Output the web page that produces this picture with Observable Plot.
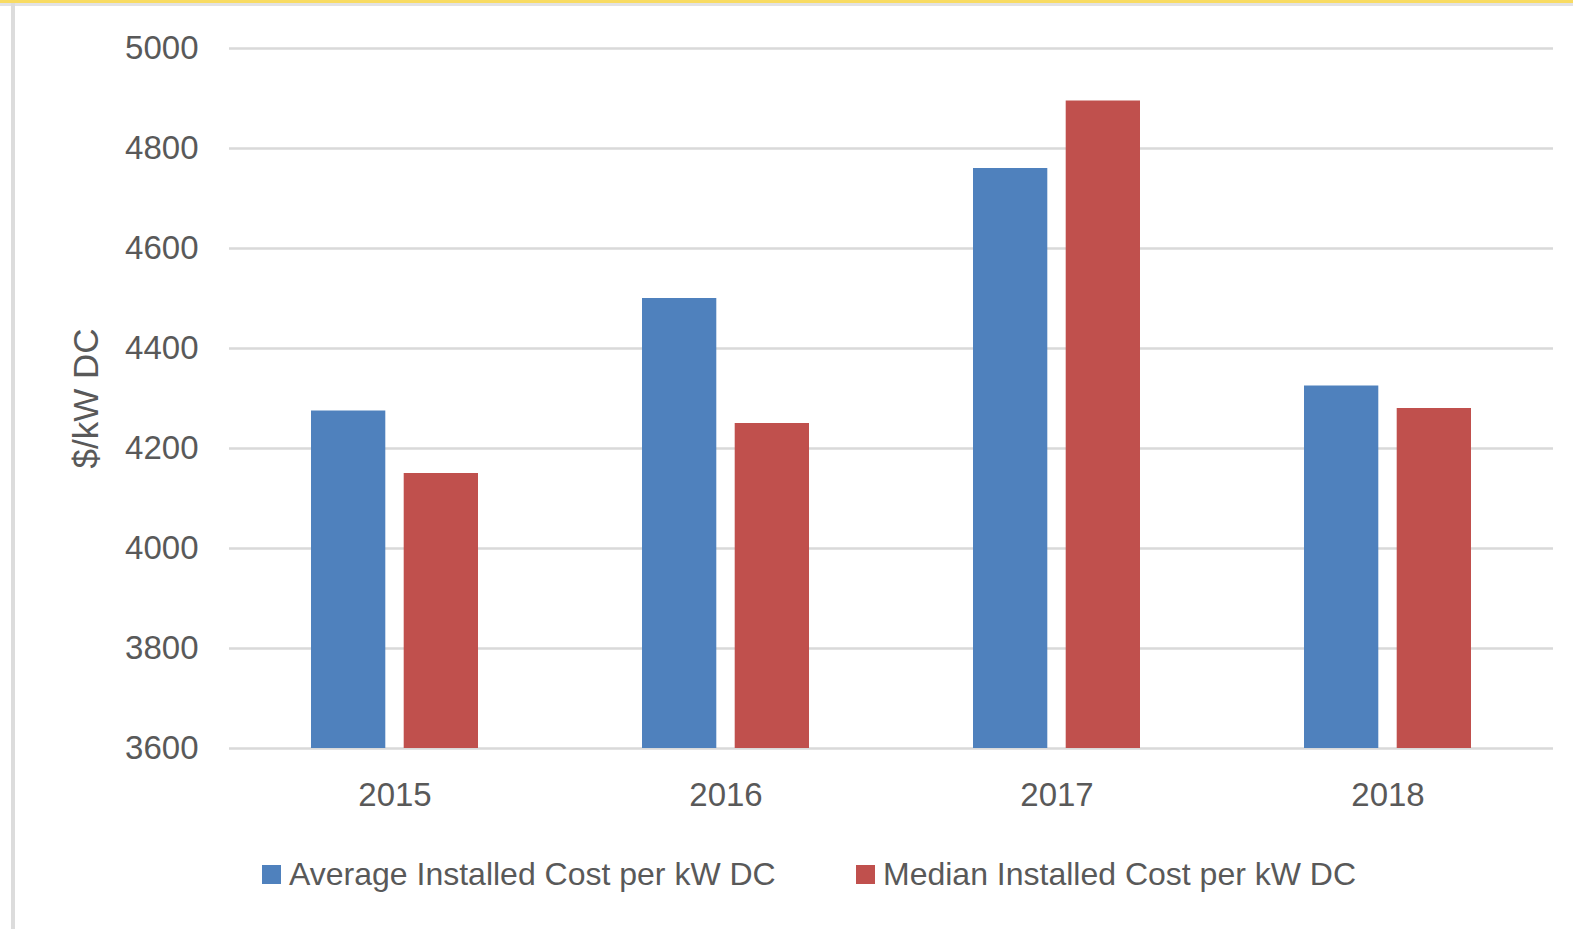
<!DOCTYPE html>
<html>
<head>
<meta charset="utf-8">
<script src="https://cdn.jsdelivr.net/npm/d3@7"></script>
<script src="https://cdn.jsdelivr.net/npm/@observablehq/plot@0.6"></script>
<style>
  html, body { margin: 0; padding: 0; background: #fff; }
  #page {
    position: relative; width: 1573px; height: 929px; overflow: hidden;
    font-family: "Liberation Sans", Arial, sans-serif; color: #595959;
  }
  #topband { position: absolute; left: 0; top: 0; width: 1573px; height: 3px; background: #F8DB62; }
  #topline { position: absolute; left: 0; top: 3px; width: 1573px; height: 3px; background: #E2E2E4; }
  #leftline { position: absolute; left: 11px; top: 3px; width: 4px; height: 926px; background: #DCDCDC; }
  #chart { position: absolute; left: 0; top: 0; }
  .legend-item { position: absolute; top: 855px; height: 38px; display: flex; align-items: center; font-size: 32px; white-space: nowrap; }
  .legend-swatch { width: 19px; height: 19px; margin-right: 8px; }
</style>
</head>
<body>
<div id="page">
  <div id="chart"></div>
  <div id="topband"></div>
  <div id="topline"></div>
  <div id="leftline"></div>
</div>
<script>
// Installed cost per kW DC, by year
const years = ["2015", "2016", "2017", "2018"];
const seriesNames = ["Average Installed Cost per kW DC", "Median Installed Cost per kW DC"];
const averageCost = [4275, 4500, 4760, 4325];
const medianCost = [4150, 4250, 4895, 4280];
const seriesColors = ["#4F81BD", "#C0504D"];
const yTicks = [3600, 3800, 4000, 4200, 4400, 4600, 4800, 5000];
const yTitle = "$/kW DC";

const averageRows = years.map((year, i) => ({year, value: averageCost[i]}));
const medianRows = years.map((year, i) => ({year, value: medianCost[i]}));

const barWidth = 74.5;
const groupWidth = 167.2;
const yMin = yTicks[0];
const textColor = "#595959";

const chart = Plot.plot({
  width: 1573,
  height: 820,
  marginLeft: 229,
  marginRight: 20,
  marginTop: 48,
  marginBottom: 72,
  style: {fontFamily: "'Liberation Sans', Arial, sans-serif", color: textColor, background: "transparent"},
  x: {domain: years, paddingInner: 0.495, paddingOuter: 0.2475},
  y: {domain: [yMin, yTicks[yTicks.length - 1]]},
  marks: [
    Plot.gridY(yTicks, {stroke: "#D9D9D9", strokeOpacity: 1, strokeWidth: 2.5}),
    // each year's band holds the two bars: average on the left, median on the right
    Plot.barY(averageRows, {x: "year", y1: yMin, y2: "value", fill: seriesColors[0], insetRight: groupWidth - barWidth}),
    Plot.barY(medianRows, {x: "year", y1: yMin, y2: "value", fill: seriesColors[1], insetLeft: groupWidth - barWidth}),
    Plot.axisY({ticks: yTicks, tickSize: 0, tickPadding: 31, fontSize: 33, fill: textColor, label: null, tickFormat: d => String(d)}),
    Plot.axisY({ticks: [], tickSize: 0, label: yTitle, labelAnchor: "center", labelArrow: "none", labelOffset: 156, fontSize: 35, fill: textColor}),
    Plot.axisX({tickSize: 0, tickPadding: 34, fontSize: 33, fill: textColor, label: null})
  ]
});
document.getElementById("chart").appendChild(chart);

// legend below the plot
const legendLeft = [262, 856];
const page = document.getElementById("page");
seriesNames.forEach((name, i) => {
  const item = document.createElement("div");
  item.className = "legend-item";
  item.style.left = legendLeft[i] + "px";
  const sw = document.createElement("span");
  sw.className = "legend-swatch";
  sw.style.background = seriesColors[i];
  const label = document.createElement("span");
  label.textContent = name;
  item.appendChild(sw);
  item.appendChild(label);
  page.appendChild(item);
});
</script>
</body>
</html>
